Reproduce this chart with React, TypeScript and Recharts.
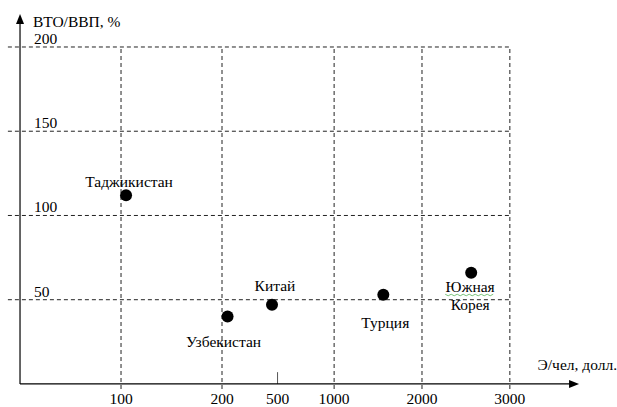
import React from "react";
import { ScatterChart, Scatter, XAxis, YAxis, ReferenceLine } from "recharts";

// energy per capita (Э/чел, долл.) vs foreign trade turnover to GDP (ВТО/ВВП, %)
const countries = ["Таджикистан", "Узбекистан", "Китай", "Турция", "Южная Корея"];
const energyPerCapita = [105, 230, 470, 1560, 2560];
const tradeToGdp = [112, 40, 47, 53, 66];

const xTickValues = [100, 200, 500, 1000, 2000, 3000];
const xGridValues = [100, 200, 1000, 2000, 3000];
const yTickValues = [50, 100, 150, 200];

// the hand-drawn axis is not evenly spaced: where each tick sits, in axis units
const xTickSlots = [1, 2, 2.55, 3.11, 3.98, 4.85];
// label placement relative to the dot (dx, dy of the text baseline)
const labelOffsets = [
  [3, -8],
  [-4, 30],
  [3, -14],
  [2, 33],
  [-1, 19],
];

const FONT = "'Liberation Serif', 'Tinos', 'Times New Roman', 'DejaVu Serif', serif";
const INK = "#000";
const DASH = "4 3";
const textStyle = { fontFamily: FONT, fontSize: 15.5 };

function toSlot(v: number) {
  for (let i = 1; i < xTickValues.length; i++) {
    if (v <= xTickValues[i] || i === xTickValues.length - 1) {
      const a = xTickValues[i - 1];
      const b = xTickValues[i];
      const t = (v - a) / (b - a);
      return xTickSlots[i - 1] + t * (xTickSlots[i] - xTickSlots[i - 1]);
    }
  }
  return 0;
}

const points = countries.map((name, i) => ({
  name,
  i,
  x: toSlot(energyPerCapita[i]),
  y: tradeToGdp[i],
}));

const gridLeft = -0.12;
const gridRight = toSlot(3000);

function XTick(props: any) {
  const idx = xTickSlots.indexOf(props.payload.value);
  return (
    <text x={props.x} y={404} textAnchor="middle" style={textStyle} fill={INK}>
      {xTickValues[idx]}
    </text>
  );
}

function YTick(props: any) {
  return (
    <text x={34} y={props.y - 3} textAnchor="start" style={textStyle} fill={INK}>
      {props.payload.value}
    </text>
  );
}

function Dot(props: any) {
  const { cx, cy, payload } = props;
  const [dx, dy] = labelOffsets[payload.i];
  const lines = payload.name.split(" ");
  const tx = cx + dx;
  return (
    <g>
      <circle cx={cx} cy={cy} r={6} fill={INK} />
      {lines.map((l: string, k: number) => (
        <text key={k} x={tx} y={cy + dy + k * 18} textAnchor="middle" style={textStyle} fill={INK}>
          {l}
        </text>
      ))}
      {lines.length > 1 && (
        <path
          d={Array.from({ length: 17 }, (_, k) => `${k ? "L" : "M"}${tx - 25 + k * 3},${cy + dy + 3 + (k % 2 ? 1 : -0.5)}`).join(" ")}
          stroke="#7bc47b"
          strokeWidth={1}
          fill="none"
        />
      )}
    </g>
  );
}

const yArrow = (props: any) => {
  const { x1, y1, x2, y2 } = props;
  return (
    <g>
      <line x1={x1} y1={y1} x2={x2} y2={y2 + 6} stroke={INK} strokeWidth={1.2} />
      <path d={`M${x2},${y2} L${x2 - 4},${y2 + 10} L${x2 + 4},${y2 + 10} Z`} fill={INK} />
      <text x={x2 + 13} y={y2 + 13} style={textStyle} fill={INK}>
        ВТО/ВВП, %
      </text>
    </g>
  );
};

const xArrow = (props: any) => {
  const { x1, y1, x2, y2 } = props;
  return (
    <g>
      <line x1={x1} y1={y1} x2={x2 - 6} y2={y2} stroke={INK} strokeWidth={1.2} />
      <path d={`M${x2},${y2} L${x2 - 10},${y2 - 4} L${x2 - 10},${y2 + 4} Z`} fill={INK} />
      <text x={x2 + 38} y={y2 - 14} textAnchor="end" style={textStyle} fill={INK}>
        Э/чел, долл.
      </text>
    </g>
  );
};

export default function App() {
  return (
    <div style={{ position: "absolute", left: 0, top: 0 }}>
      <ScatterChart
        width={617}
        height={407}
        margin={{ top: 13.3, right: 31.4, bottom: 0, left: 6.9 }}
      >
        <XAxis
          type="number"
          dataKey="x"
          domain={[gridLeft, 5.6]}
          allowDataOverflow
          ticks={xTickSlots}
          height={18}
          axisLine={false}
          tickLine={false}
          tick={<XTick />}
          interval={0}
        />
        <YAxis
          type="number"
          dataKey="y"
          domain={[-3, 220]}
          allowDataOverflow
          ticks={yTickValues}
          width={1}
          axisLine={false}
          tickLine={false}
          tick={<YTick />}
          interval={0}
        />
        {yTickValues.map((v) => (
          <ReferenceLine
            key={"h" + v}
            segment={[
              { x: gridLeft, y: v },
              { x: gridRight, y: v },
            ]}
            stroke="#222"
            strokeDasharray={DASH}
            ifOverflow="visible"
          />
        ))}
        {xGridValues.map((v) => (
          <ReferenceLine
            key={"v" + v}
            segment={[
              { x: toSlot(v), y: -3 },
              { x: toSlot(v), y: 200 },
            ]}
            stroke="#222"
            strokeDasharray={DASH}
            ifOverflow="visible"
          />
        ))}
        <ReferenceLine
          segment={[
            { x: toSlot(500), y: 0 },
            { x: toSlot(500), y: 7 },
          ]}
          stroke="#555"
          ifOverflow="visible"
        />
        <ReferenceLine
          segment={[
            { x: 0, y: 0 },
            { x: 0, y: 219.6 },
          ]}
          shape={yArrow}
          ifOverflow="visible"
        />
        <ReferenceLine
          segment={[
            { x: 0, y: 0 },
            { x: 5.535, y: 0 },
          ]}
          shape={xArrow}
          ifOverflow="visible"
        />
        <Scatter data={points} shape={<Dot />} isAnimationActive={false} />
      </ScatterChart>
    </div>
  );
}
